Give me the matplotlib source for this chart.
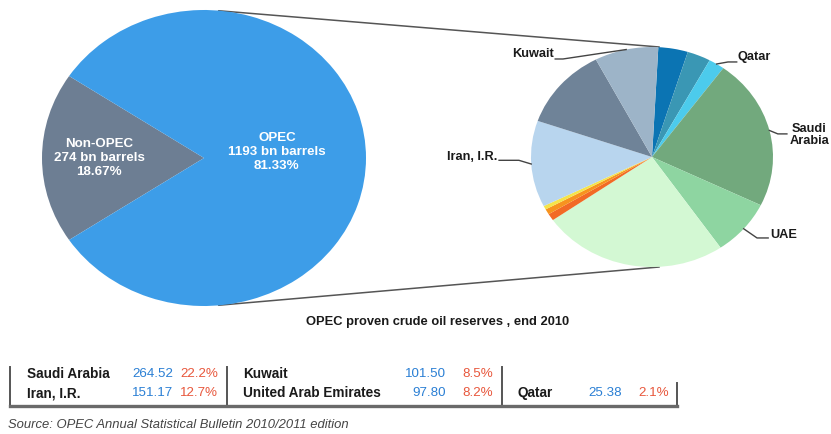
import numpy as np
import matplotlib
matplotlib.use("Agg")
import matplotlib.pyplot as plt
from matplotlib.lines import Line2D
from matplotlib.patches import ConnectionPatch

plt.rcParams['font.family'] = ['Liberation Sans', 'DejaVu Sans']

# world split, bn barrels
world_labels = ["Non-OPEC", "OPEC"]
world_reserves = [274, 1193]
world_share_text = ["18.67%", "81.33%"]

# OPEC members in pie order (clockwise from the top)
members = ["Libya", "Nigeria", "Qatar", "Saudi Arabia", "UAE", "Venezuela",
           "Algeria", "Angola", "Ecuador", "Iran, I.R.", "Iraq", "Kuwait"]
member_reserves = [47.10, 37.20, 25.38, 264.52, 97.80, 296.50,
                   12.20, 9.50, 6.51, 151.17, 143.10, 101.50]

# summary table
table_names = ["Saudi Arabia", "Iran, I.R.", "Kuwait", "United Arab Emirates", "Qatar"]
table_values = [264.52, 151.17, 101.50, 97.80, 25.38]
table_shares = [22.2, 12.7, 8.5, 8.2, 2.1]

W, H = 831, 434


def fx(x):
    return x / W


def fy(y):
    return 1 - y / H


def main():
    fig = plt.figure(figsize=(W / 100, H / 100), dpi=100)
    fig.patch.set_facecolor("white")

    ax_l = __world_pie(fig)
    ax_r = __member_pie(fig)

    # zoom lines between the two pies
    for ya, yb in [(0.995, 1.0), (-0.995, -1.0)]:
        con = ConnectionPatch(xyA=(0.09, ya), coordsA=ax_l.transData,
                              xyB=(0.06, yb), coordsB=ax_r.transData,
                              color="#555555", lw=1.1, zorder=0)
        fig.add_artist(con)

    fig.text(fx(438), fy(322), "OPEC proven crude oil reserves , end 2010",
             ha="center", va="center", fontsize=9.3, fontweight="bold", color="#1a1a1a")

    __table(fig)

    fig.text(fx(8), fy(425), "Source: OPEC Annual Statistical Bulletin 2010/2011 edition",
             ha="left", va="center", fontsize=9.4, style="italic", color="#444444")

    fig.savefig("out.png", dpi=100, facecolor="white")


def __world_pie(fig):
    ax = fig.add_axes([fx(204 - 162), fy(158 + 148), 324 / W, 296 / H])
    start = 180 - 360 * world_reserves[0] / sum(world_reserves) / 2
    ax.pie(world_reserves, colors=["#6d7e93", "#3d9de8"], startangle=start,
           wedgeprops=dict(linewidth=0))
    ax.set_aspect("auto")
    ax.set_xlim(-1, 1)
    ax.set_ylim(-1, 1)
    txt = "{}\n{} bn barrels\n{}"
    ax.text(-0.648, 0.0, txt.format(world_labels[0], world_reserves[0], world_share_text[0]),
            ha="center", va="center", color="white", fontsize=9.6,
            fontweight="bold", linespacing=1.2)
    ax.text(0.45, 0.04, txt.format(world_labels[1], world_reserves[1], world_share_text[1]),
            ha="center", va="center", color="white", fontsize=9.6,
            fontweight="bold", linespacing=1.2)
    return ax


def __member_pie(fig):
    colors = ["#0b74b3", "#3a97b4", "#4ccbec", "#72a97d", "#8ed5a1", "#d3f8d3",
              "#f26a25", "#f7931e", "#f5e44a", "#b8d5ee", "#6f8398", "#9db4c8"]
    ax = fig.add_axes([fx(652 - 121), fy(157 + 110), 242 / W, 220 / H])
    wedges, _ = ax.pie(member_reserves, colors=colors, startangle=87,
                       counterclock=False, wedgeprops=dict(linewidth=0))
    ax.set_aspect("auto")
    ax.set_xlim(-1, 1)
    ax.set_ylim(-1, 1)

    # label: (elbow, end of line, text position, alignment)
    labels = {
        "Kuwait": ((-0.736, 0.891), (-0.80, 0.891), (-0.81, 0.94), "right"),
        "Qatar": ((0.628, 0.864), (0.70, 0.864), (0.71, 0.91), "left"),
        "Saudi Arabia": ((1.04, 0.21), (1.115, 0.21), (1.30, 0.20), "center"),
        "UAE": ((0.868, -0.736), (0.96, -0.736), (0.975, -0.71), "left"),
        "Iran, I.R.": ((-1.10, -0.03), (-1.264, -0.03), (-1.28, 0.0), "right"),
    }
    for w, name in zip(wedges, members):
        if name not in labels:
            continue
        mid = np.deg2rad((w.theta1 + w.theta2) / 2)
        elbow, end, pos, ha = labels[name]
        ax.plot([np.cos(mid), elbow[0], end[0]], [np.sin(mid), elbow[1], end[1]],
                color="#444444", lw=1.0, clip_on=False)
        text = "Saudi\nArabia" if name == "Saudi Arabia" else name
        ax.text(pos[0], pos[1], text, ha=ha, va="center", fontsize=9.2,
                fontweight="bold", color="#1a1a1a", linespacing=1.1)
    return ax


def __table(fig):
    rows = [374, 393]
    name_x = [27, 27, 243, 243, 517]
    val_x = [173, 173, 446, 446, 622]
    pct_x = [218, 218, 493, 493, 669]
    row_of = [0, 1, 0, 1, 1]
    for i, name in enumerate(table_names):
        y = fy(rows[row_of[i]])
        fig.text(fx(name_x[i]), y, name, ha="left", va="center", fontsize=9.8,
                 fontweight="bold", color="#1a1a1a")
        fig.text(fx(val_x[i]), y, "{:.2f}".format(table_values[i]), ha="right",
                 va="center", fontsize=9.6, color="#2a7fd4")
        fig.text(fx(pct_x[i]), y, "{:.1f}%".format(table_shares[i]), ha="right",
                 va="center", fontsize=9.6, color="#e8573c")

    # frame
    for x, y0 in [(10, 367), (227, 367), (502, 367), (677, 383)]:
        fig.add_artist(Line2D([fx(x), fx(x)], [fy(y0), fy(406)], color="#555555", lw=1.4))
    fig.add_artist(Line2D([fx(10), fx(677)], [fy(406), fy(406)], color="#6a6a6a", lw=2.4))


if __name__ == '__main__':
    main()
